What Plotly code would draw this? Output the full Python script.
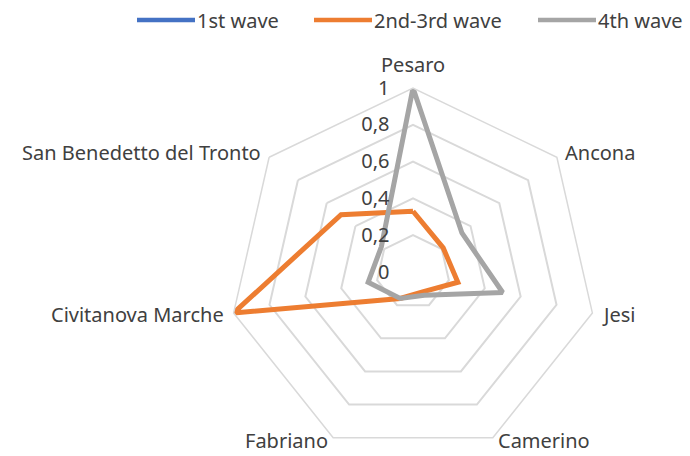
import math
import plotly.graph_objects as go

categories = ["Pesaro", "Ancona", "Jesi", "Camerino", "Fabriano",
              "Civitanova Marche", "San Benedetto del Tronto"]
wave1 = [0, 0, 0, 0, 0, 0, 0]
wave23 = [0.33, 0.21, 0.25, 0.12, 0.16, 1.0, 0.50]
wave4 = [1.0, 0.34, 0.50, 0.14, 0.16, 0.25, 0.22]
tick_vals = [0, 0.2, 0.4, 0.6, 0.8, 1]

series_names = ["1st wave", "2nd-3rd wave", "4th wave"]
series_values = [wave1, wave23, wave4]
series_colors = ["#4472C4", "#ED7D31", "#A5A5A5"]

W, H = 690, 456
TOP = 88
R = (H - TOP) / 2
CX, CY = 413, TOP + R
TXT = "#404040"
FS = 20


def px2paper(px, py):
    return px / W, 1 - (py - TOP) / (H - TOP)


fig = go.Figure()
for name, vals, color in zip(series_names, series_values, series_colors):
    fig.add_trace(go.Scatterpolar(
        r=vals + vals[:1], theta=categories + categories[:1],
        mode="lines", name=name, showlegend=False,
        line=dict(color=color, width=5)))

# category labels just outside each vertex of the outer ring
n = len(categories)
for i, cat in enumerate(categories):
    a = 2 * math.pi * i / n
    s, c = math.sin(a), math.cos(a)
    px = CX + (R + 8) * s
    py = CY - (R + 8) * c
    if i == 0:
        xa, ya = "center", "bottom"
    else:
        xa = "left" if s > 0 else "right"
        ya = "middle"
    if ya == "middle" and py + FS * 0.65 > H:
        ya, py = "bottom", H
    x, y = px2paper(px, py)
    fig.add_annotation(x=x, y=y, xref="paper", yref="paper", text=cat,
                       showarrow=False, xanchor=xa, yanchor=ya,
                       font=dict(size=FS, color=TXT))

# legend drawn at the top: swatch line followed by its label
LEG_Y = 20
leg_starts = [137, 314, 538]
SW = 58
for name, color, x0 in zip(series_names, series_colors, leg_starts):
    xa, y = px2paper(x0, LEG_Y)
    xb, _ = px2paper(x0 + SW, LEG_Y)
    fig.add_shape(type="line", xref="paper", yref="paper",
                  x0=xa, x1=xb, y0=y, y1=y,
                  line=dict(color=color, width=4.5))
    xt, _ = px2paper(x0 + SW + 1, LEG_Y)
    fig.add_annotation(x=xt, y=y, xref="paper", yref="paper", text=name,
                       showarrow=False, xanchor="left", yanchor="middle",
                       borderpad=0, font=dict(size=20, color=TXT))

fig.update_layout(
    width=W, height=H,
    margin=dict(l=0, r=0, t=TOP, b=0),
    paper_bgcolor="white",
    separators=",.",
    showlegend=False,
    font=dict(family="Noto Sans", size=FS, color=TXT),
    polar=dict(
        domain=dict(x=[(CX - R) / W, (CX + R) / W], y=[0, 1]),
        gridshape="linear",
        bgcolor="white",
        angularaxis=dict(direction="clockwise", rotation=90,
                         showgrid=False, showline=True, linecolor="#D9D9D9",
                         linewidth=1.5, ticks="", showticklabels=False),
        radialaxis=dict(range=[0, 1], tickvals=tick_vals, angle=90,
                        tickangle=90, side="counterclockwise",
                        showline=False, gridcolor="#D9D9D9", gridwidth=1.5,
                        ticks="outside", ticklen=16, tickcolor="rgba(0,0,0,0)",
                        tickfont=dict(size=FS, color=TXT)),
    ),
)
fig.write_html("out.html")
